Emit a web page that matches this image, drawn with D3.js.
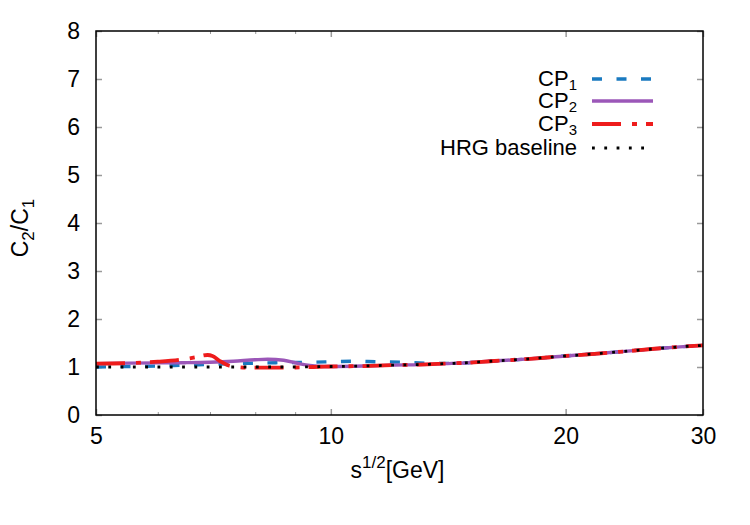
<!DOCTYPE html>
<html>
<head>
<meta charset="utf-8">
<script src="https://cdn.jsdelivr.net/npm/d3@7"></script>
<style>
  html, body { margin: 0; padding: 0; background: #fff; }
  svg { display: block; font-family: "Liberation Sans", Arial, sans-serif; }
</style>
</head>
<body>
<svg id="chart" width="750" height="525"></svg>
<script>
// ---- data ----
const xTicksMajor = [5, 10, 20, 30];
const xTicksMinor = [6, 7, 8, 9];
const yTicks = [0, 1, 2, 3, 4, 5, 6, 7, 8];

const hrgX = [5, 6, 7, 8, 9, 10, 11, 12, 13, 14, 15, 16, 18, 20, 22, 24, 26, 28, 30];
const hrgY = [1.00, 1.00, 1.00, 1.00, 1.00, 1.01, 1.02, 1.04, 1.05, 1.07, 1.09, 1.12, 1.17, 1.23, 1.28, 1.33, 1.38, 1.42, 1.45];

const cp1X = [5, 5.5, 6, 6.5, 7, 7.5, 8, 8.5, 9, 9.5, 10, 10.7, 11.4, 12.3, 13.3, 14.2, 15, 16, 18, 20, 22, 24, 26, 28, 30];
const cp1Y = [1.00, 1.01, 1.02, 1.04, 1.055, 1.07, 1.08, 1.09, 1.095, 1.10, 1.11, 1.12, 1.11, 1.10, 1.08, 1.075, 1.09, 1.12, 1.17, 1.23, 1.28, 1.33, 1.38, 1.42, 1.45];

const cp2X = [5, 5.5, 6, 6.5, 7, 7.5, 8, 8.3, 8.7, 9.1, 9.4, 9.8, 10, 11, 12, 13, 14, 15, 16, 18, 20, 22, 24, 26, 28, 30];
const cp2Y = [1.07, 1.08, 1.085, 1.09, 1.10, 1.12, 1.15, 1.16, 1.14, 1.07, 1.03, 1.01, 1.01, 1.02, 1.04, 1.05, 1.07, 1.09, 1.12, 1.17, 1.23, 1.28, 1.33, 1.38, 1.42, 1.45];

const cp3X = [5, 5.5, 6, 6.4, 6.7, 6.95, 7.05, 7.2, 7.4, 7.6, 7.9, 8.5, 9, 9.5, 10, 11, 12, 13, 14, 15, 16, 18, 20, 22, 24, 26, 28, 30];
const cp3Y = [1.07, 1.08, 1.11, 1.15, 1.20, 1.25, 1.23, 1.13, 1.03, 1.00, 0.985, 0.985, 0.99, 1.00, 1.01, 1.02, 1.04, 1.05, 1.07, 1.09, 1.12, 1.17, 1.23, 1.28, 1.33, 1.38, 1.42, 1.45];

const seriesNames = ["CP", "CP", "CP", "HRG baseline"];
const seriesSubs = ["1", "2", "3", ""];

// ---- layout ----
const L = 96, R = 703, T = 31, B = 415;
const FS = 23, FSS = 17, LFS = 22, LFSS = 15;
const svg = d3.select("#chart");
const x = d3.scaleLog().domain([5, 30]).range([L, R]);
const y = d3.scaleLinear().domain([0, 8]).range([B, T]);

const tickColor = "#9a9a9a";

function styleTicks(g, w) {
  g.select(".domain").remove();
  g.selectAll(".tick line").attr("stroke", tickColor).attr("stroke-width", w);
  g.selectAll(".tick text").attr("font-size", FS).attr("fill", "#000")
    .attr("font-family", "Liberation Sans, Arial, sans-serif");
}

// x ticks bottom (inward)
styleTicks(svg.append("g").attr("transform", `translate(0,${B})`)
  .call(d3.axisBottom(x).tickValues(xTicksMajor).tickSize(-6).tickFormat(d3.format("d")).tickPadding(13)), 1.5);
styleTicks(svg.append("g").attr("transform", `translate(0,${B})`)
  .call(d3.axisBottom(x).tickValues(xTicksMinor).tickSize(-3).tickFormat("")), 1);
// x ticks top (mirror)
styleTicks(svg.append("g").attr("transform", `translate(0,${T})`)
  .call(d3.axisTop(x).tickValues(xTicksMajor).tickSize(-6).tickFormat("")), 1.5);
styleTicks(svg.append("g").attr("transform", `translate(0,${T})`)
  .call(d3.axisTop(x).tickValues(xTicksMinor).tickSize(-3).tickFormat("")), 1);

// y ticks left / right
styleTicks(svg.append("g").attr("transform", `translate(${L},0)`)
  .call(d3.axisLeft(y).tickValues(yTicks).tickSize(-6).tickFormat(d3.format("d")).tickPadding(16)), 1.5);
styleTicks(svg.append("g").attr("transform", `translate(${R},0)`)
  .call(d3.axisRight(y).tickValues(yTicks).tickSize(-6).tickFormat("")), 1.5);

// curves
const line = d3.line().x(d => x(d[0])).y(d => y(d[1])).curve(d3.curveMonotoneX);
const zip = (xs, ys) => xs.map((v, i) => [v, ys[i]]);

const styles = [
  { data: zip(cp1X, cp1Y), color: "#1a7ac0", width: 3.4, dash: "10,14.5" },
  { data: zip(cp2X, cp2Y), color: "#9b57b8", width: 3.4, dash: null },
  { data: zip(cp3X, cp3Y), color: "#ee1c1c", width: 3.8, dash: "29,11,5,9" },
  { data: zip(hrgX, hrgY), color: "#000000", width: 2.8, dash: "2.8,9.5" }
];

svg.append("clipPath").attr("id", "plotclip").append("rect")
  .attr("x", L).attr("y", T).attr("width", R - L).attr("height", B - T);

const gLines = svg.append("g").attr("clip-path", "url(#plotclip)");
styles.forEach(s => {
  gLines.append("path")
    .attr("d", line(s.data))
    .attr("fill", "none")
    .attr("stroke", s.color)
    .attr("stroke-width", s.width)
    .attr("stroke-dasharray", s.dash)
    .attr("stroke-linecap", "butt");
});

// frame
svg.append("rect").attr("x", L).attr("y", T).attr("width", R - L).attr("height", B - T)
  .attr("fill", "none").attr("stroke", "#000").attr("stroke-width", 1.5);

// legend
const legRows = [79, 101, 124, 148];
const legTextX = 577, legLineX0 = 592, legLineX1 = 653;
styles.forEach((s, i) => {
  const ry = legRows[i];
  const t = svg.append("text").attr("x", legTextX).attr("y", ry + 7)
    .attr("text-anchor", "end").attr("font-size", LFS).attr("fill", "#000");
  t.append("tspan").text(seriesNames[i]);
  if (seriesSubs[i]) {
    t.append("tspan").attr("font-size", LFSS).attr("dy", 4).text(seriesSubs[i]);
  }
  svg.append("line").attr("x1", legLineX0).attr("x2", legLineX1).attr("y1", ry).attr("y2", ry)
    .attr("stroke", s.color).attr("stroke-width", s.width)
    .attr("stroke-dasharray", s.dash);
});

// axis titles
const xt = svg.append("text").attr("x", (L + R) / 2 - 2).attr("y", 478)
  .attr("text-anchor", "middle").attr("font-size", FS).attr("fill", "#000");
xt.append("tspan").text("s");
xt.append("tspan").attr("font-size", FSS).attr("dy", -10).text("1/2");
xt.append("tspan").attr("dy", 10).text("[GeV]");

const yt = svg.append("text").attr("transform", `translate(28,${(T + B) / 2 + 5}) rotate(-90)`)
  .attr("text-anchor", "middle").attr("font-size", FS).attr("fill", "#000");
yt.append("tspan").text("C");
yt.append("tspan").attr("font-size", FSS).attr("dy", 6).text("2");
yt.append("tspan").attr("dy", -6).text("/C");
yt.append("tspan").attr("font-size", FSS).attr("dy", 6).text("1");
</script>
</body>
</html>
